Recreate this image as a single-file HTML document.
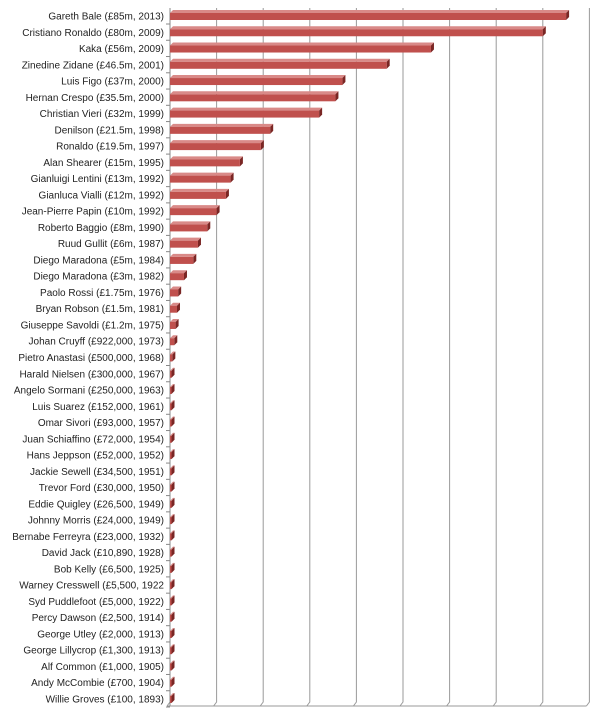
<!DOCTYPE html>
<html><head><meta charset="utf-8"><style>
body{margin:0;background:#fff;width:600px;height:714px;overflow:hidden}
svg{display:block}
text{font-family:"Liberation Sans",sans-serif;font-size:10px;fill:#222}
</style></head><body>
<svg id="chart" width="600" height="714" viewBox="0 0 600 714"></svg>
<script>
const labels=["Gareth Bale (£85m, 2013)","Cristiano Ronaldo (£80m, 2009)","Kaka (£56m, 2009)","Zinedine Zidane (£46.5m, 2001)","Luis Figo (£37m, 2000)","Hernan Crespo (£35.5m, 2000)","Christian Vieri (£32m, 1999)","Denilson (£21.5m, 1998)","Ronaldo (£19.5m, 1997)","Alan Shearer (£15m, 1995)","Gianluigi Lentini (£13m, 1992)","Gianluca Vialli (£12m, 1992)","Jean-Pierre Papin (£10m, 1992)","Roberto Baggio (£8m, 1990)","Ruud Gullit (£6m, 1987)","Diego Maradona (£5m, 1984)","Diego Maradona (£3m, 1982)","Paolo Rossi (£1.75m, 1976)","Bryan Robson (£1.5m, 1981)","Giuseppe Savoldi (£1.2m, 1975)","Johan Cruyff (£922,000, 1973)","Pietro Anastasi (£500,000, 1968)","Harald Nielsen (£300,000, 1967)","Angelo Sormani (£250,000, 1963)","Luis Suarez (£152,000, 1961)","Omar Sivori (£93,000, 1957)","Juan Schiaffino (£72,000, 1954)","Hans Jeppson (£52,000, 1952)","Jackie Sewell (£34,500, 1951)","Trevor Ford (£30,000, 1950)","Eddie Quigley (£26,500, 1949)","Johnny Morris (£24,000, 1949)","Bernabe Ferreyra (£23,000, 1932)","David Jack (£10,890, 1928)","Bob Kelly (£6,500, 1925)","Warney Cresswell (£5,500, 1922","Syd Puddlefoot (£5,000, 1922)","Percy Dawson (£2,500, 1914)","George Utley (£2,000, 1913)","George Lillycrop (£1,300, 1913)","Alf Common (£1,000, 1905)","Andy McCombie (£700, 1904)","Willie Groves (£100, 1893)"];
const values=[85,80,56,46.5,37,35.5,32,21.5,19.5,15,13,12,10,8,6,5,3,1.75,1.5,1.2,0.922,0.5,0.3,0.25,0.152,0.093,0.072,0.052,0.0345,0.03,0.0265,0.024,0.023,0.01089,0.0065,0.0055,0.005,0.0025,0.002,0.0013,0.001,0.0007,0.0001];
const gridTicks=[0,10,20,30,40,50,60,70,80,90];
const NS="http://www.w3.org/2000/svg";
const svg=document.getElementById('chart');
const x0=170,pxPer=4.66,plotTop=8,plotBottom=706,rowTopY=16,rowStep=(699-16)/42;
const X=v=>x0+v*pxPer;
const Y=i=>rowTopY+i*rowStep;
function mk(t,a){const e=document.createElementNS(NS,t);for(const k in a)e.setAttribute(k,a[k]);svg.appendChild(e);return e;}
gridTicks.forEach((t)=>{
  const g=mk('path',{d:`M${X(t)},${plotTop} L${X(t)},${plotBottom-4} L${X(t)-3},${plotBottom}`,stroke:'#9a9a9a','stroke-width':1,fill:'none'});
  
  
});
const ax=mk('line',{x1:x0,y1:plotTop,x2:x0,y2:plotBottom,stroke:'#888','stroke-width':1});


const bx=mk('line',{x1:x0-3,y1:plotBottom,x2:X(90)-3,y2:plotBottom,stroke:'#999','stroke-width':1});


labels.forEach((l,i)=>{
  const y=Y(i);
  const tk=mk('line',{x1:x0-4,y1:y+8,x2:x0,y2:y+8,stroke:'#888'});
  
  
  const tx=mk('text',{x:164,y:y+3.5,'text-anchor':'end'});
  tx.textContent=l;
  
  
  const w=Math.max(values[i]*pxPer,1.5);
  const grp=mk('g',{});
  
  
  const bt=document.createElementNS(NS,'path');
  bt.setAttribute('d',`M${x0},${y-3} L${x0+w},${y-3} L${x0+w+3},${y-6} L${x0+3},${y-6} Z`);
  bt.setAttribute('fill','#d98a88');grp.appendChild(bt);
  const sd=document.createElementNS(NS,'path');
  sd.setAttribute('d',`M${x0+w},${y-3} L${x0+w+3},${y-6} L${x0+w+3},${y+1} L${x0+w},${y+4} Z`);
  sd.setAttribute('fill','#7a2624');grp.appendChild(sd);
  const fr=document.createElementNS(NS,'rect');
  fr.setAttribute('x',x0);fr.setAttribute('y',y-3);fr.setAttribute('width',w);fr.setAttribute('height',7);
  fr.setAttribute('fill','#c0504d');grp.appendChild(fr);
});
</script>
</body></html>
